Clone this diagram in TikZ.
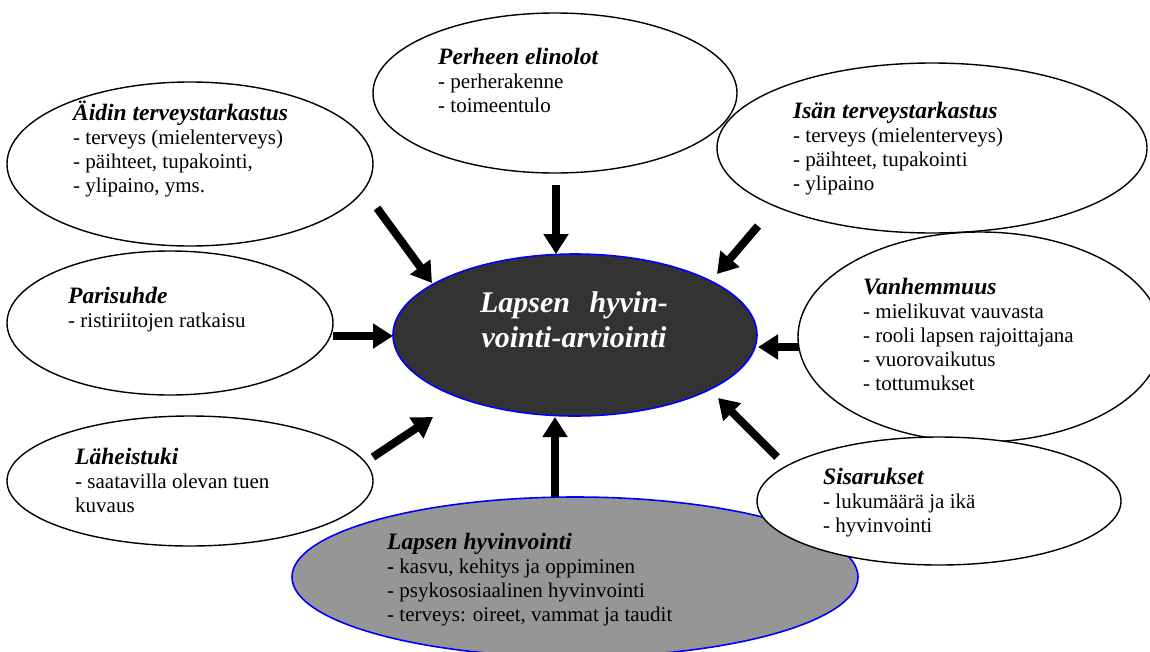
\documentclass[tikz,border=0pt]{standalone}
\usepackage{fontspec}
\setmainfont{Liberation Serif}
\usetikzlibrary{shapes.geometric,arrows.meta}
\newcommand\boxhead[1]{{\fontsize{23.5}{24}\selectfont\bfseries\itshape #1}}
\begin{document}
\begin{tikzpicture}[x=1pt,y=-1pt,
  bub/.style={ellipse,draw=black,line width=1.4pt,inner sep=0pt},
  hub/.style={ellipse,draw=blue,line width=1.6pt,inner sep=0pt},
  lbl/.style={anchor=base west,align=left,inner sep=0pt,font=\fontsize{21}{24}\selectfont},
  arr/.style={line width=8pt,-{Triangle[width=24pt,length=20pt]}}]
\useasboundingbox (0,0) rectangle (1150,651);
% ellipses
\node[bub,minimum width=366pt,minimum height=164pt] (aidin) at (190,164) {};
\node[bub,minimum width=364pt,minimum height=160pt] (perheen) at (555,93) {};
\node[bub,minimum width=430pt,minimum height=170pt] (isan) at (932,148) {};
\node[bub,minimum width=326pt,minimum height=144pt] (pari) at (170,323) {};
\node[bub,minimum width=366pt,minimum height=130pt] (lahei) at (190,481) {};
\node[bub,minimum width=364pt,minimum height=210pt] (vanh) at (980,337) {};
\node[hub,fill=black!80,minimum width=364pt,minimum height=162pt] (arvio) at (575,335) {};
\node[hub,fill=black!41,minimum width=566pt,minimum height=160pt] (lhv) at (575,577) {};
\node[bub,fill=white,minimum width=364pt,minimum height=128pt] (sisar) at (939,501) {};
% texts (anchored at the baseline of the last line)
\node[lbl] (taidin) at (73,192) {\boxhead{Äidin terveystarkastus}\\- terveys (mielenterveys)\\- päihteet, tupakointi,\\- ylipaino, yms.};
\node[lbl] (tperheen) at (438,112) {\boxhead{Perheen elinolot}\\- perherakenne\\- toimeentulo};
\node[lbl] (tisan) at (793,190) {\boxhead{Isän terveystarkastus}\\- terveys (mielenterveys)\\- päihteet, tupakointi\\- ylipaino};
\node[lbl] (tpari) at (68,327) {\boxhead{Parisuhde}\\- ristiriitojen ratkaisu};
\node[lbl] (tlahei) at (75,512) {\boxhead{Läheistuki}\\- saatavilla olevan tuen\\kuvaus};
\node[lbl] (tvanh) at (863,390) {\boxhead{Vanhemmuus}\\- mielikuvat vauvasta\\- rooli lapsen rajoittajana\\- vuorovaikutus\\- tottumukset};
\node[lbl] (tsisar) at (823,532) {\boxhead{Sisarukset}\\- lukumäärä ja ikä\\- hyvinvointi};
\node[lbl] (tlhv) at (387,621) {\boxhead{Lapsen hyvinvointi}\\{\bfseries -} kasvu, kehitys ja oppiminen\\- psykososiaalinen hyvinvointi\\- terveys: oireet, vammat ja taudit};
\node[anchor=base,align=center,inner sep=0pt,text=white,font=\fontsize{30}{35}\selectfont\bfseries\itshape] (tarvio) at (574,347) {\makebox[188pt][s]{Lapsen hyvin-}\\vointi-arviointi};
% arrows
\coordinate (s1) at (377,208); \coordinate (e1) at (432,283);
\coordinate (s2) at (556,185); \coordinate (e2) at (556,254);
\coordinate (s3) at (758,226); \coordinate (e3) at (717,274);
\coordinate (s4) at (333,336); \coordinate (e4) at (393,336);
\coordinate (s5) at (799,347); \coordinate (e5) at (758,347);
\coordinate (s6) at (373,457); \coordinate (e6) at (433,417);
\coordinate (s7) at (555,497); \coordinate (e7) at (555,417);
\coordinate (s8) at (777,457); \coordinate (e8) at (718,398);
\foreach \i in {1,...,8} {\draw[arr] (s\i) -- (e\i);}
\end{tikzpicture}
\end{document}
